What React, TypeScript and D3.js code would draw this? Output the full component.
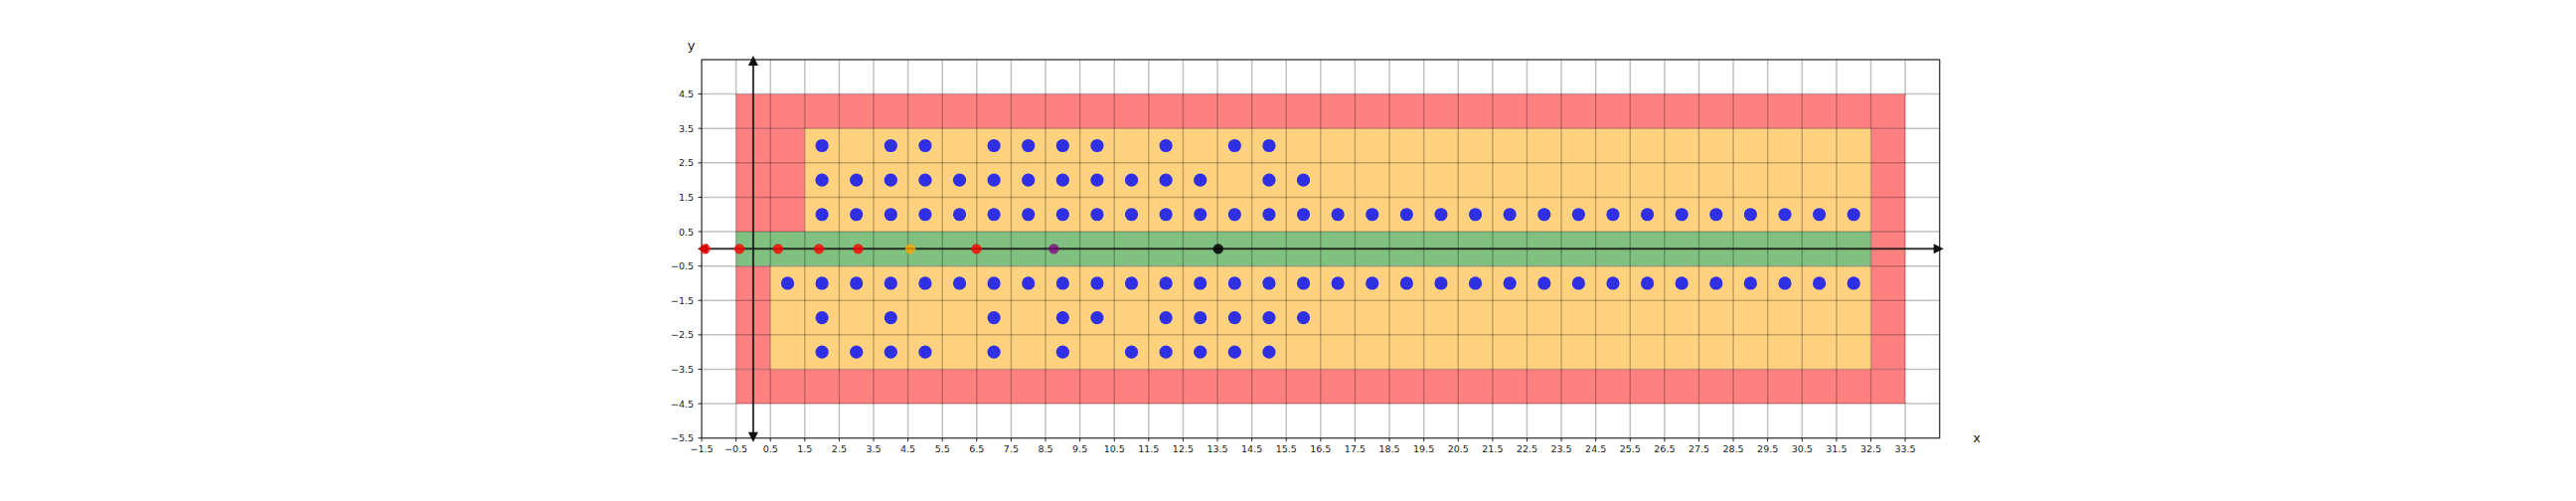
import React, { useEffect, useRef } from "react";
import * as d3 from "d3";

// tick values / labels
const xTicks = [-1.5, -0.5, 0.5, 1.5, 2.5, 3.5, 4.5, 5.5, 6.5, 7.5, 8.5, 9.5, 10.5, 11.5, 12.5, 13.5, 14.5, 15.5, 16.5, 17.5, 18.5, 19.5, 20.5, 21.5, 22.5, 23.5, 24.5, 25.5, 26.5, 27.5, 28.5, 29.5, 30.5, 31.5, 32.5, 33.5];
const yTicks = [-5.5, -4.5, -3.5, -2.5, -1.5, -0.5, 0.5, 1.5, 2.5, 3.5, 4.5];
const gridX = [...xTicks, 34.5];
const gridY = [...yTicks, 5.5];

// coloured zones (data coords)
const zoneX0 = [-0.5, -0.5, -0.5, -0.5, 32.5, 1.5, 0.5, -0.5];
const zoneX1 = [33.5, 33.5, 1.5, 0.5, 33.5, 32.5, 32.5, 32.5];
const zoneY0 = [3.5, -4.5, 0.5, -3.5, -3.5, 0.5, -3.5, -0.5];
const zoneY1 = [4.5, -3.5, 3.5, -0.5, 3.5, 3.5, -0.5, 0.5];
const zoneKind = ["red", "red", "red", "red", "red", "orange", "orange", "green"];

// blue points, one array per row
const row3 = [2, 4, 5, 7, 8, 9, 10, 12, 14, 15];
const row2 = [2, 3, 4, 5, 6, 7, 8, 9, 10, 11, 12, 13, 15, 16];
const row1 = [2, 3, 4, 5, 6, 7, 8, 9, 10, 11, 12, 13, 14, 15, 16, 17, 18, 19, 20, 21, 22, 23, 24, 25, 26, 27, 28, 29, 30, 31, 32];
const rowM1 = [1, 2, 3, 4, 5, 6, 7, 8, 9, 10, 11, 12, 13, 14, 15, 16, 17, 18, 19, 20, 21, 22, 23, 24, 25, 26, 27, 28, 29, 30, 31, 32];
const rowM2 = [2, 4, 7, 9, 10, 12, 13, 14, 15, 16];
const rowM3 = [2, 3, 4, 5, 7, 9, 11, 12, 13, 14, 15];

// points sitting on the x axis
const redX = [-1.4, -0.4, 0.72, 1.91, 3.05, 6.49];
const orangeX = [4.57];
const purpleX = [8.74];
const blackX = [13.52];

const zoneFill: Record<string, string> = { red: "#ff8080", orange: "#ffd280", green: "#80c080" };
const minus = (v: number) => (v < 0 ? "\u2212" + Math.abs(v) : String(v));

const App = () => {
  const svgRef = useRef<SVGSVGElement>(null);

  useEffect(() => {
    const svg = d3.select(svgRef.current);
    svg.selectAll("*").remove();

    const x = d3.scaleLinear().domain([-1.5, 34.5]).range([706, 1951.7]);
    const y = d3.scaleLinear().domain([-5.5, 5.5]).range([440.7, 60]);

    svg.append("rect").attr("width", 2592).attr("height", 504).attr("fill", "#fff");

    //zones
    svg
      .append("g")
      .selectAll("rect")
      .data(zoneKind.map((k, i) => ({ k, x0: zoneX0[i], x1: zoneX1[i], y0: zoneY0[i], y1: zoneY1[i] })))
      .enter()
      .append("rect")
      .attr("x", (d) => x(d.x0))
      .attr("y", (d) => y(d.y1))
      .attr("width", (d) => x(d.x1) - x(d.x0))
      .attr("height", (d) => y(d.y0) - y(d.y1))
      .attr("fill", (d) => zoneFill[d.k]);

    //grid
    const grid = svg.append("g").attr("stroke", "#000").attr("stroke-opacity", 0.24).attr("stroke-width", 1.5);
    gridX.forEach((v) => grid.append("line").attr("x1", x(v)).attr("x2", x(v)).attr("y1", y(5.5)).attr("y2", y(-5.5)));
    gridY.forEach((v) => grid.append("line").attr("y1", y(v)).attr("y2", y(v)).attr("x1", x(-1.5)).attr("x2", x(34.5)));

    //frame
    svg
      .append("rect")
      .attr("x", x(-1.5))
      .attr("y", y(5.5))
      .attr("width", x(34.5) - x(-1.5))
      .attr("height", y(-5.5) - y(5.5))
      .attr("fill", "none")
      .attr("stroke", "#222")
      .attr("stroke-width", 1);

    //ticks + labels
    const ticks = svg.append("g").style("font-family", "DejaVu Sans").style("font-size", "9.5px").attr("fill", "#222");
    xTicks.forEach((v) => {
      ticks.append("line").attr("x1", x(v)).attr("x2", x(v)).attr("y1", y(-5.5)).attr("y2", y(-5.5) + 3.5).attr("stroke", "#222");
      ticks.append("text").attr("x", x(v)).attr("y", y(-5.5) + 14.5).attr("text-anchor", "middle").text(minus(v));
    });
    yTicks.forEach((v) => {
      ticks.append("line").attr("x1", x(-1.5)).attr("x2", x(-1.5) - 3.5).attr("y1", y(v)).attr("y2", y(v)).attr("stroke", "#222");
      ticks.append("text").attr("x", x(-1.5) - 8).attr("y", y(v) + 3.5).attr("text-anchor", "end").text(minus(v));
    });

    //axis labels
    svg.append("text").attr("x", 695.5).attr("y", 50).attr("text-anchor", "middle")
      .style("font-family", "DejaVu Sans").style("font-size", "13px").attr("fill", "#222").text("y");
    svg.append("text").attr("x", x(34.5) + 37.5).attr("y", 445).attr("text-anchor", "middle")
      .style("font-family", "DejaVu Sans").style("font-size", "13px").attr("fill", "#222").text("x");

    //axis arrows
    const arrows = svg.append("g");
    const ax = x(0);
    const ay = y(0);
    const head = 10;
    const half = 5;
    arrows.append("line").attr("x1", x(-1.5)).attr("x2", x(34.5)).attr("y1", ay).attr("y2", ay)
      .attr("stroke", "#111").attr("stroke-opacity", 0.85).attr("stroke-width", 2);
    arrows.append("line").attr("x1", ax).attr("x2", ax).attr("y1", y(5.5)).attr("y2", y(-5.5))
      .attr("stroke", "#111").attr("stroke-opacity", 0.85).attr("stroke-width", 2);
    const tri = (pts: number[][]) => "M" + pts.map((p) => p.join(",")).join("L") + "Z";
    const xl = x(-1.5) - 4;
    const xr = x(34.5) + 4;
    const yt = y(5.5) - 4;
    const yb = y(-5.5) + 4;
    [
      tri([[xl, ay], [xl + head, ay - half], [xl + head, ay + half]]),
      tri([[xr, ay], [xr - head, ay - half], [xr - head, ay + half]]),
      tri([[ax, yt], [ax - half, yt + head], [ax + half, yt + head]]),
      tri([[ax, yb], [ax - half, yb - head], [ax + half, yb - head]]),
    ].forEach((d) => arrows.append("path").attr("d", d).attr("fill", "#111"));

    //blue points
    const rows: [number, number[]][] = [[3, row3], [2, row2], [1, row1], [-1, rowM1], [-2, rowM2], [-3, rowM3]];
    const blue = svg.append("g");
    rows.forEach(([ry, xs]) => {
      blue
        .selectAll(null)
        .data(xs)
        .enter()
        .append("circle")
        .attr("cx", (d) => x(d))
        .attr("cy", y(ry))
        .attr("r", 6.6)
        .attr("fill", "#2f2fe4");
    });

    //points on the axis
    const onAxis: [number[], string, number][] = [
      [redX, "#ff0000", 0.8],
      [orangeX, "#ffa500", 0.75],
      [purpleX, "#800080", 0.75],
      [blackX, "#000000", 0.85],
    ];
    onAxis.forEach(([xs, c, o]) => {
      svg
        .append("g")
        .selectAll("circle")
        .data(xs)
        .enter()
        .append("circle")
        .attr("cx", (d) => x(d))
        .attr("cy", ay)
        .attr("r", 5.2)
        .attr("fill", c)
        .attr("fill-opacity", o);
    });
  }, []);

  return (
    <div style={{ position: "absolute", left: 0, top: 0 }}>
      <svg ref={svgRef} width={2592} height={504} style={{ display: "block" }} />
    </div>
  );
};

export default App;
